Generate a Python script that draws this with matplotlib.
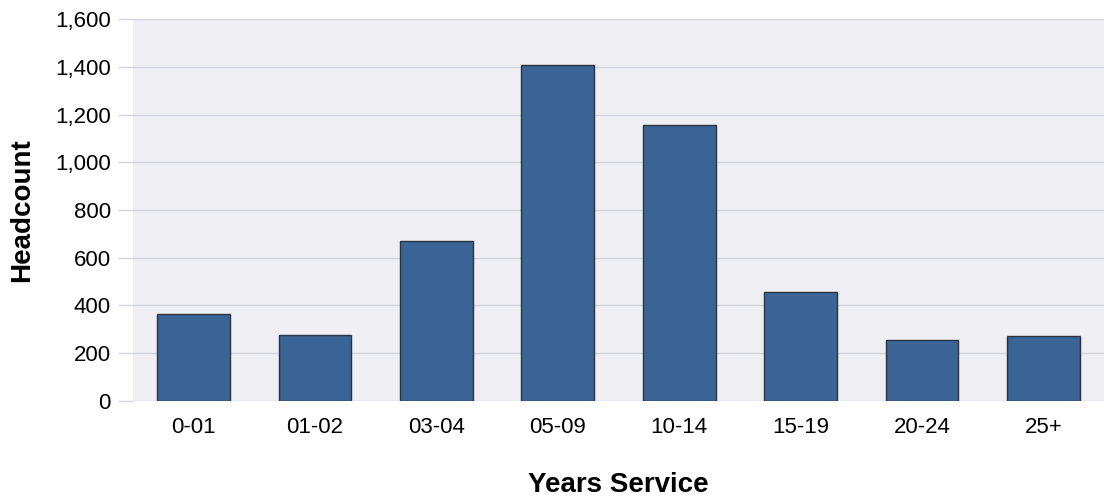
import matplotlib.pyplot as plt
from matplotlib.ticker import FuncFormatter

plt.rcParams['font.family'] = ['Liberation Sans', 'DejaVu Sans']

# 数据
categories = ['0-01', '01-02', '03-04', '05-09', '10-14', '15-19', '20-24', '25+']
headcount = [363, 276, 669, 1410, 1156, 456, 253, 270]
y_ticks = [0, 200, 400, 600, 800, 1000, 1200, 1400, 1600]

fig = plt.figure(figsize=(11.04, 4.97), dpi=100)
ax = fig.add_axes([0.1205, 0.194, 0.8795, 0.767])
ax.set_facecolor('#eeeef3')

ax.bar(categories, headcount, width=0.6, color='#3a6496',
       edgecolor='#2b3440', linewidth=1.0, zorder=3)

ax.set_ylim(0, 1600)
ax.set_xlim(-0.5, len(categories) - 0.5)
ax.set_yticks(y_ticks)
ax.yaxis.set_major_formatter(FuncFormatter(lambda v, p: f'{int(v):,}'))
ax.grid(axis='y', color='#d4d4df', linewidth=1, zorder=0)

for s in ax.spines.values():
    s.set_visible(False)
ax.tick_params(axis='y', length=11, color='#d4d4df', width=1, labelsize=16, pad=5)
ax.tick_params(axis='x', length=0, labelsize=16, pad=12)

ax.set_ylabel('Headcount', fontsize=20, fontweight='bold', labelpad=14)
ax.set_xlabel('Years Service', fontsize=20, fontweight='bold', labelpad=24)

fig.savefig('out.png', dpi=100)
